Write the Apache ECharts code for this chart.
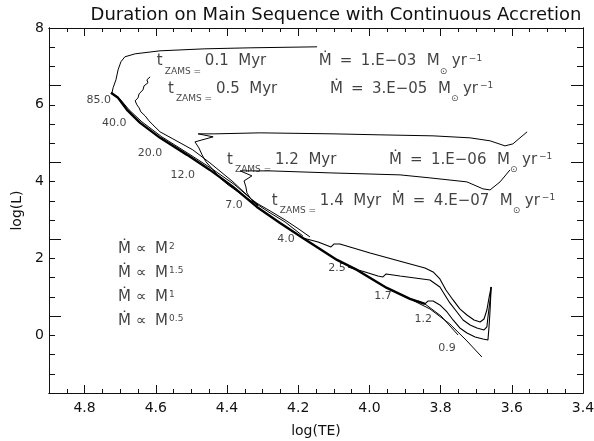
<!DOCTYPE html>
<html><head><meta charset="utf-8">
<script src="https://cdn.jsdelivr.net/npm/echarts@6/dist/echarts.min.js"></script>
<style>html,body{margin:0;padding:0;background:#fff}#c{width:594px;height:441px}</style>
</head><body><div id="c"></div>
<script>
// ---- data (log Te, log L) ----
const zams = [[4.726,6.313],[4.706,6.182],[4.681,5.870],[4.644,5.531],[4.588,5.141],[4.512,4.698],[4.448,4.307],[4.383,3.865],[4.316,3.344],[4.251,2.927],[4.187,2.536],[4.091,1.964],[4.035,1.703],[3.951,1.234],[3.886,0.948],[3.844,0.818]];
const zamsEnd12 = [[3.844,0.818],[3.799,0.505],[3.751,0.010]];
const zamsEnd09 = [[3.886,0.948],[3.830,0.688],[3.774,0.297],[3.726,-0.146],[3.684,-0.563]];
const iso01 = [[4.147,7.510],[4.335,7.484],[4.462,7.458],[4.588,7.406],[4.658,7.328],[4.687,7.250],[4.698,7.120],[4.706,6.911],[4.712,6.651],[4.720,6.443],[4.723,6.313],[4.701,6.156],[4.675,5.870],[4.639,5.557],[4.583,5.167],[4.507,4.724],[4.442,4.333],[4.378,3.917],[4.313,3.396]];
const iso05 = [[4.616,6.729],[4.625,6.651],[4.622,6.573],[4.633,6.495],[4.636,6.391],[4.647,6.286],[4.650,6.182],[4.658,6.104],[4.653,6.000],[4.647,5.922],[4.642,5.818],[4.630,5.714],[4.619,5.583],[4.608,5.479],[4.588,5.297],[4.552,5.115],[4.496,4.828],[4.448,4.490],[4.383,3.995],[4.344,3.656],[4.313,3.370]];
const iso12 = [[3.557,5.297],[3.577,5.141],[3.597,4.984],[3.619,4.932],[3.661,5.063],[3.717,5.141],[3.821,5.193],[3.970,5.219],[4.102,5.245],[4.307,5.271],[4.434,5.245],[4.481,5.245],[4.439,5.167],[4.490,5.036],[4.479,4.880],[4.470,4.698],[4.459,4.516],[4.439,4.307],[4.420,4.099],[4.397,3.917],[4.369,3.734],[4.341,3.552],[4.313,3.396],[4.279,3.188],[4.237,2.953],[4.187,2.589]];
const iso14 = [[3.605,4.307],[3.633,3.995],[3.661,3.786],[3.681,3.813],[3.726,3.995],[3.830,4.099],[3.914,4.177],[4.111,4.229],[4.279,4.281],[4.363,4.281],[4.330,4.151],[4.352,4.021],[4.347,3.865],[4.344,3.708],[4.333,3.552],[4.313,3.422],[4.279,3.240],[4.237,3.005],[4.195,2.745],[4.167,2.563]];
const trackA = [[4.187,2.536],[4.144,2.432],[4.108,2.302],[4.099,2.380],[4.083,2.380],[3.998,2.146],[3.906,1.911],[3.844,1.755],[3.821,1.651],[3.802,1.469],[3.785,1.182],[3.765,0.922],[3.746,0.688],[3.726,0.531],[3.706,0.401],[3.689,0.349],[3.678,0.427],[3.670,0.661],[3.664,0.974],[3.658,1.260]];
const trackB = [[4.060,1.781],[4.012,1.651],[3.976,1.547],[3.962,1.521],[3.953,1.599],[3.914,1.547],[3.830,1.443],[3.802,1.260],[3.774,0.844],[3.754,0.609],[3.737,0.401],[3.717,0.271],[3.698,0.193],[3.678,0.141],[3.670,0.219],[3.667,0.479],[3.661,0.922],[3.658,1.260]];
const trackC = [[3.863,0.896],[3.844,0.818],[3.835,0.896],[3.821,0.896],[3.802,0.792],[3.782,0.609],[3.765,0.401],[3.746,0.193],[3.726,0.063],[3.703,-0.042],[3.681,-0.094],[3.667,-0.120],[3.664,0.219],[3.661,0.661],[3.658,1.260]];
// mass labels along the ZAMS
const massText = ['85.0','40.0','20.0','12.0','7.0','4.0','2.5','1.7','1.2','0.9'];
const massPos = [[4.760,6.13],[4.717,5.53],[4.616,4.75],[4.524,4.18],[4.380,3.38],[4.234,2.50],[4.091,1.75],[3.962,1.03],[3.849,0.43],[3.782,-0.33]];
// isochrone annotations
const isoTime = ['0.1','0.5','1.2','1.4'];
const isoRate = ['1.E\u221203','3.E\u221205','1.E\u221206','4.E\u221207'];
const isoPos = [[4.597,7.12],[4.566,6.40],[4.400,4.56],[4.274,3.49]];
// accretion laws
const lawExp = ['2','1.5','1','0.5'];
const lawPos = [[4.706,2.22],[4.706,1.60],[4.706,0.97],[4.706,0.35]];
// axis ranges
const xMin = 3.4, xMax = 4.9, yMin = -1.5, yMax = 8;

const FF = 'DejaVu Sans';
const C = '#111';
function xa(pos, interval, len, lab) {
  return {type:'value', position:pos, min:xMin, max:xMax, inverse:true, interval:interval,
    axisLine:{show:true, onZero:false, lineStyle:{color:C, width:1}},
    axisTick:{show:true, inside:true, length:len, lineStyle:{color:C, width:1}},
    splitLine:{show:false},
    axisLabel: lab ? {show:true, interval:0, margin:8, color:C, fontFamily:FF, fontSize:14, hideOverlap:false,
      formatter: v => (Math.abs(v*5-Math.round(v*5))<1e-6) ? v.toFixed(1) : ''} : {show:false},
    name: lab ? 'log(TE)' : '', nameLocation:'middle', nameGap:31,
    nameTextStyle:{color:C, fontFamily:FF, fontSize:14}};
}
function ya(pos, interval, len, lab) {
  return {type:'value', position:pos, min:yMin, max:yMax, interval:interval,
    axisLine:{show:true, onZero:false, lineStyle:{color:C, width:1}},
    axisTick:{show:true, inside:true, length:len, lineStyle:{color:C, width:1}},
    splitLine:{show:false},
    axisLabel: lab ? {show:true, interval:0, margin:5, color:C, fontFamily:FF, fontSize:14, hideOverlap:false,
      formatter: v => (Math.abs(v/2-Math.round(v/2))<1e-6) ? v.toFixed(0) : ''} : {show:false},
    name: lab ? 'log(L)' : '', nameLocation:'middle', nameGap:19, nameRotate:90,
    nameTextStyle:{color:C, fontFamily:FF, fontSize:14}};
}
function line(d, w) {
  return {type:'line', data:d, xAxisIndex:0, yAxisIndex:0, showSymbol:false, symbol:'none',
    lineStyle:{color:'#000', width:w}, silent:true, z:3};
}
function st(base, extra) { return Object.assign({}, base, extra); }
const T = {fontSize:15, fontFamily:FF, color:C, lineHeight:16, verticalAlign:'top'};
const S = {fontSize:9, fontFamily:FF, color:C, lineHeight:9, verticalAlign:'bottom'};
const P = {fontSize:9, fontFamily:FF, color:C, lineHeight:9, verticalAlign:'top'};
const annotRich = {
  h:{lineHeight:22, width:0},
  t1:st(T,{width:8}),
  s1:st(S,{width:40}),
  tma:st(T,{width:114}),
  tmb:st(T,{width:72}),
  md:st(T,{width:21}),
  eq:st(T,{width:21}),
  rt:st(T,{width:66}),
  mm:st(T,{width:13}),
  so:st(S,{width:12}),
  yr:st(T,{width:17}),
  sup:P
};
function annotText(i) {
  const tm = (i === 3) ? 'tmb' : 'tma';
  return '{h|}{t1|t}{s1|ZAMS =}{' + tm + '|' + isoTime[i] + '  Myr}{md|\u1E40}{eq|=}{rt|' + isoRate[i] +
    '}{mm|M}{so|\u2299}{yr|yr}{sup|\u22121}';
}
const lawRich = {
  h:{lineHeight:22, width:0},
  a:st(T,{width:18}),
  b:st(T,{width:19}),
  c:st(T,{width:14}),
  sup:P
};

const chart = echarts.init(document.getElementById('c'), null, {renderer:'canvas'});
chart.setOption({
  animation:false,
  backgroundColor:'#fff',
  title:{text:'Duration on Main Sequence with Continuous Accretion', left:331, top:1, textAlign:'center',
    textStyle:{fontFamily:FF, fontSize:18, fontWeight:'normal', color:C}},
  grid:{left:49, right:11, top:28, bottom:48, containLabel:false, outerBoundsMode:'none'},
  xAxis:[xa('bottom',0.05,4,true), xa('bottom',0.2,8,false), xa('top',0.05,4,false), xa('top',0.2,8,false)],
  yAxis:[ya('left',0.5,6,true), ya('left',2,12,false), ya('right',0.5,6,false), ya('right',2,12,false)],
  series:[
    line(zams,2.4), line(zamsEnd12,1), line(zamsEnd09,1),
    line(iso01,1), line(iso05,1), line(iso12,1), line(iso14,1),
    line(trackA,1.1), line(trackB,1.1), line(trackC,1.1),
    {type:'scatter', xAxisIndex:0, yAxisIndex:0, symbolSize:0, silent:true,
      data: massPos.map((p,i)=>[p[0],p[1],massText[i]]),
      label:{show:true, position:'inside', formatter:p=>p.data[2], fontFamily:FF, fontSize:11, color:C}},
    {type:'scatter', xAxisIndex:0, yAxisIndex:0, symbolSize:0, silent:true,
      data: isoPos.map((p,i)=>[p[0],p[1],i]),
      label:{show:true, position:[0,-8], formatter:p=>annotText(p.data[2]), rich:annotRich}},
    {type:'scatter', xAxisIndex:0, yAxisIndex:0, symbolSize:0, silent:true,
      data: lawPos.map((p,i)=>[p[0],p[1],lawExp[i]]),
      label:{show:true, position:[0,-8], formatter:p=>'{h|}{a|\u1E40}{b|\u221D}{c|M}{sup|' + p.data[2] + '}', rich:lawRich}}
  ]
});
</script></body></html>
